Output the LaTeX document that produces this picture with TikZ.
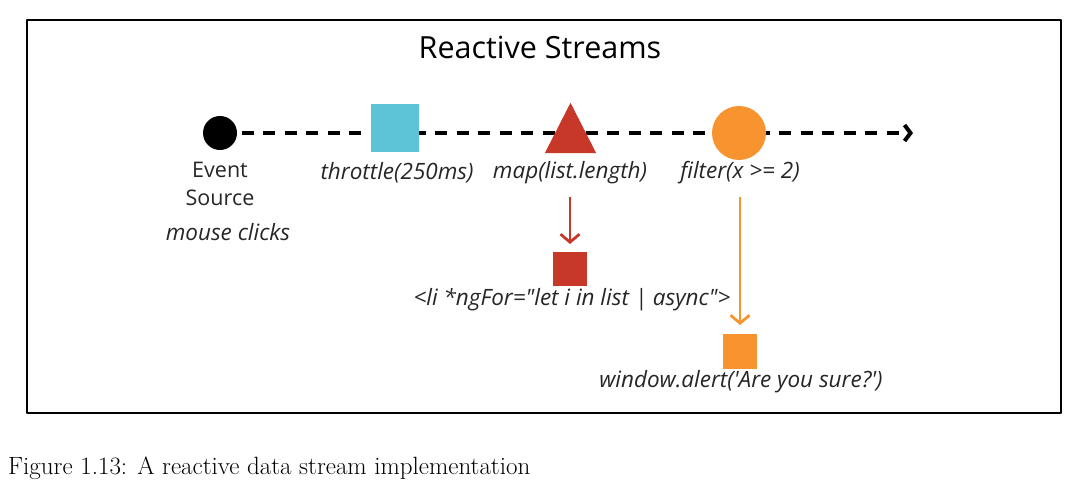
\documentclass[tikz,border=0pt]{standalone}
\usepackage{fontspec}
\newfontfamily\diagfont{Open Sans}
\usetikzlibrary{arrows.meta,backgrounds}
\definecolor{srccol}{rgb}{0.0,0.0,0.0}
\definecolor{thrcol}{rgb}{0.36,0.77,0.84}
\definecolor{mapcol}{rgb}{0.78,0.22,0.16}
\definecolor{fltcol}{rgb}{0.97,0.58,0.19}
\tikzset{
  lbl/.style={font=\diagfont\fontsize{22.5bp}{28bp}\selectfont\itshape,inner sep=0pt,text=black!85},
  txt/.style={font=\diagfont\fontsize{21.5bp}{28bp}\selectfont,inner sep=0pt,text=black!85,align=center},
  sub/.style={->,line width=2.8bp,>={Straight Barb[length=8bp,width=19bp]}},
}
\begin{document}
\begin{tikzpicture}[x=1bp,y=-1bp,line join=bevel]
  \useasboundingbox (0,0) rectangle (1076,488);
%%
  \draw[line width=1.2bp] (27,20) rectangle (1061,413);
  \node[font=\diagfont\fontsize{30.5bp}{34bp}\selectfont,inner sep=0pt] (title) at (540,47) {Reactive Streams};
  % Node: src
  \node[circle,fill=srccol,minimum size=34bp,inner sep=0pt] (src) at (220,133) {};
  % Node: thr
  \node[fill=thrcol,minimum size=48bp,inner sep=0pt] (thr) at (395,128) {};
  % Node: map
  \node[minimum width=51bp,minimum height=50bp,inner sep=0pt] (map) at (570.5,128) {};
  \fill[mapcol] (map.south west) -- (map.north) -- (map.south east) -- cycle;
  % Node: flt
  \node[circle,fill=fltcol,minimum size=54bp,inner sep=0pt] (flt) at (739,133) {};
  \coordinate (end) at (913,133);
  % Edge: src -> end
  \begin{scope}[on background layer]
    \draw[line width=4bp,dash pattern=on 12bp off 9.5bp,-{Straight Barb[length=6bp,width=16bp,line width=4bp]}] (src.center) -- (end);
  \end{scope}
  % Labels
  \node[txt] (srclbl) at (220,184) {Event\\Source};
  \node[lbl] (srcsub) at (228,232) {mouse clicks};
  \node[lbl] (thrlbl) at (397,173) {throttle(250ms)};
  \node[lbl] (maplbl) at (570,173) {map(list.length)};
  \node[lbl] (fltlbl) at (740,173) {filter(x >= 2)};
  % Node: dom
  \node[fill=mapcol,minimum size=34bp,inner sep=0pt] (dom) at (570,269) {};
  \node[lbl] (domlbl) at (572,300) {<li *ngFor="let i in list | async">};
  % Node: alert
  \node[fill=fltcol,minimum size=34bp,inner sep=0pt] (alert) at (740,351.5) {};
  \node[lbl] (alertlbl) at (741,382) {window.alert('Are you sure?')};
  % Edge: map -> dom
  \draw[sub,mapcol] (570,197) -- (dom.north |- 0,244);
  % Edge: flt -> alert
  \draw[sub,fltcol] (740,197) -- (alert.north |- 0,325);
  % Caption
  \node[anchor=west,inner sep=0pt,font=\fontsize{25bp}{28bp}\selectfont] (cap) at (8,468) {Figure 1.13: A reactive data stream implementation};
%
\end{tikzpicture}
\end{document}
